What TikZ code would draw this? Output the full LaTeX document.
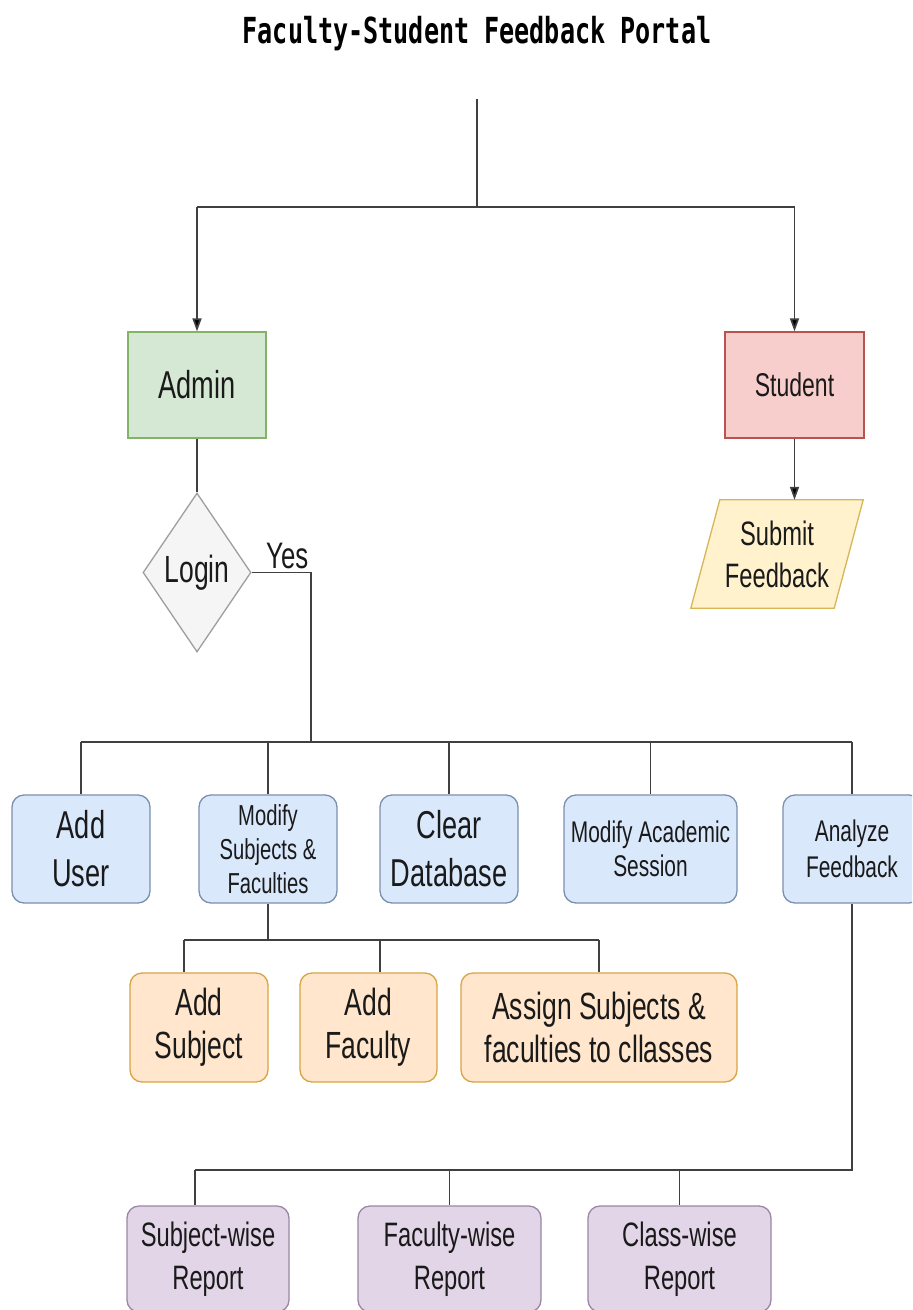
\documentclass[tikz,border=0pt]{standalone}
\usepackage{fontspec}
\setmainfont[FakeStretch=0.7]{Liberation Sans}
\newfontfamily\titlefont[FakeStretch=0.7]{DejaVu Sans Mono}
\usetikzlibrary{shapes.geometric,arrows.meta,backgrounds}

\definecolor{ink}{HTML}{1A1A1A}
\definecolor{wirec}{HTML}{404040}
\definecolor{adminfill}{HTML}{D5E8D4}
\definecolor{adminline}{HTML}{82B366}
\definecolor{studentfill}{HTML}{F8CECC}
\definecolor{studentline}{HTML}{B85450}
\definecolor{submitfill}{HTML}{FFF2CC}
\definecolor{submitline}{HTML}{D6B656}
\definecolor{loginfill}{HTML}{F5F5F5}
\definecolor{loginline}{HTML}{9E9E9E}
\definecolor{bluefill}{HTML}{DAE8FC}
\definecolor{blueline}{HTML}{7B8FAE}
\definecolor{orangefill}{HTML}{FFE6CC}
\definecolor{orangeline}{HTML}{D9A441}
\definecolor{purplefill}{HTML}{E1D5E7}
\definecolor{purpleline}{HTML}{9A87A3}

\newcommand\fsz[2]{\fontsize{#1}{#2}\selectfont}

\begin{document}
\begin{tikzpicture}[x=1bp,y=-1bp,
  box/.style={draw, line width=1.3bp, inner sep=0pt, align=center,
    text=ink, anchor=center},
  sharpbox/.style={box, minimum width=138bp, minimum height=106bp,
    font=\fsz{39}{46}},
  taskbox/.style={box, rounded corners=12bp, minimum height=108bp,
    fill=bluefill, draw=blueline},
  subbox/.style={box, rounded corners=12bp, minimum height=109bp,
    fill=orangefill, draw=orangeline, font=\fsz{38}{43}},
  reportbox/.style={box, rounded corners=12bp, minimum height=106bp,
    fill=purplefill, draw=purpleline, font=\fsz{34}{43}},
  wire/.style={draw=wirec, line width=1.7bp},
  arr/.style={wire, -{Triangle[length=13bp,width=9bp,fill=black]}}]

\useasboundingbox (0,0) rectangle (912,1310);
\clip (0,0) rectangle (912,1310);

% heading
\node[font=\titlefont\bfseries\fsz{36}{40}, anchor=base, inner sep=0pt]
  (title) at (477,44) {Faculty-Student Feedback Portal};

% the two user roles
\node[sharpbox, fill=adminfill, draw=adminline] (admin) at (197,385) {Admin};
\node[sharpbox, fill=studentfill, draw=studentline, minimum width=139bp,
  font=\fsz{33}{40}] (student) at (794.5,385) {Student};

% admin login check
\node[box, diamond, fill=loginfill, draw=loginline, minimum width=108bp,
  minimum height=159bp, font=\fsz{38}{42}] (login) at (197,572.5) {Login};
\node[font=\fsz{37}{40}, anchor=base west, inner sep=0pt, text=ink]
  (yes) at (266,568) {Yes};

% student input (parallelogram drawn behind its label)
\node[inner sep=0pt, minimum width=172bp, minimum height=108bp, align=center,
  text=ink, font=\fsz{34}{42}] (submit) at (777,554) {Submit\\Feedback};
\begin{scope}[on background layer]
  \fill[white] (0,0) rectangle (912,1310);
  \path[draw=submitline, fill=submitfill, line width=1.3bp]
    ([xshift=29bp]submit.north west) -- (submit.north east)
    -- ([xshift=-29bp]submit.south east) -- (submit.south west) -- cycle;
\end{scope}

% admin tasks
\node[taskbox, minimum width=138bp, font=\fsz{39}{48}] (adduser) at (81,849) {Add\\User};
\node[taskbox, minimum width=138bp, font=\fsz{29}{34}] (modsf) at (268,849)
  {Modify\\Subjects \&\\Faculties};
\node[taskbox, minimum width=138bp, font=\fsz{39}{48}] (cleardb) at (449,849)
  {Clear\\Database};
\node[taskbox, minimum width=173bp, font=\fsz{30}{34}] (modacad) at (650.5,849)
  {Modify Academic\\Session};
\node[taskbox, minimum width=138bp, font=\fsz{30}{36}] (analyze) at (852,849)
  {Analyze\\Feedback};

% subject and faculty management
\node[subbox, minimum width=138bp] (addsub) at (199,1027.5) {Add\\Subject};
\node[subbox, minimum width=137bp] (addfac) at (368.5,1027.5) {Add\\Faculty};
\node[subbox, minimum width=276bp] (assign) at (599,1027.5)
  {Assign Subjects \&\\faculties to cllasses};

% reports
\node[reportbox, minimum width=162bp] (subw) at (208,1259) {Subject-wise\\Report};
\node[reportbox, minimum width=183bp] (facw) at (449.5,1259) {Faculty-wise\\Report};
\node[reportbox, minimum width=183bp] (clsw) at (679.5,1259) {Class-wise\\Report};

% connectors
\coordinate (top) at (477,99);
\coordinate (split) at (477,207);
\draw[wire] (top) -- (split);
\draw[wire] (admin.north |- split) -- (student.north |- split);
\draw[arr] (admin.north |- split) -- (admin.north);
\draw[arr] (student.north |- split) -- (student.north);
\draw[wire] (admin) -- (login);
\draw[arr] (student.south) -- (student.south |- submit.north);

\coordinate (bus) at (311,742);
\draw[wire] (login.east) -| (bus);
\draw[wire] (adduser.north |- bus) -- (analyze.north |- bus);
\foreach \n in {adduser,modsf,cleardb,modacad,analyze}
  \draw[wire] (\n.north |- bus) -- (\n.north);

\coordinate (sbus) at (268,940);
\draw[wire] (modsf.south) -- (sbus);
\draw[wire] ([xshift=-15bp]addsub.north |- sbus) -- (assign.north |- sbus);
\draw[wire] ([xshift=-15bp]addsub.north |- sbus) -- ([xshift=-15bp]addsub.north);
\draw[wire] ([xshift=11.5bp]addfac.north |- sbus) -- ([xshift=11.5bp]addfac.north);
\draw[wire] (assign.north |- sbus) -- (assign.north);

\coordinate (rbus) at (852,1170);
\draw[wire] (analyze.south) -- (rbus) -- ([xshift=-13bp]subw.north |- rbus);
\draw[wire] ([xshift=-13bp]subw.north |- rbus) -- ([xshift=-13bp]subw.north);
\draw[wire] (facw.north |- rbus) -- (facw.north);
\draw[wire] (clsw.north |- rbus) -- (clsw.north);
\end{tikzpicture}
\end{document}
